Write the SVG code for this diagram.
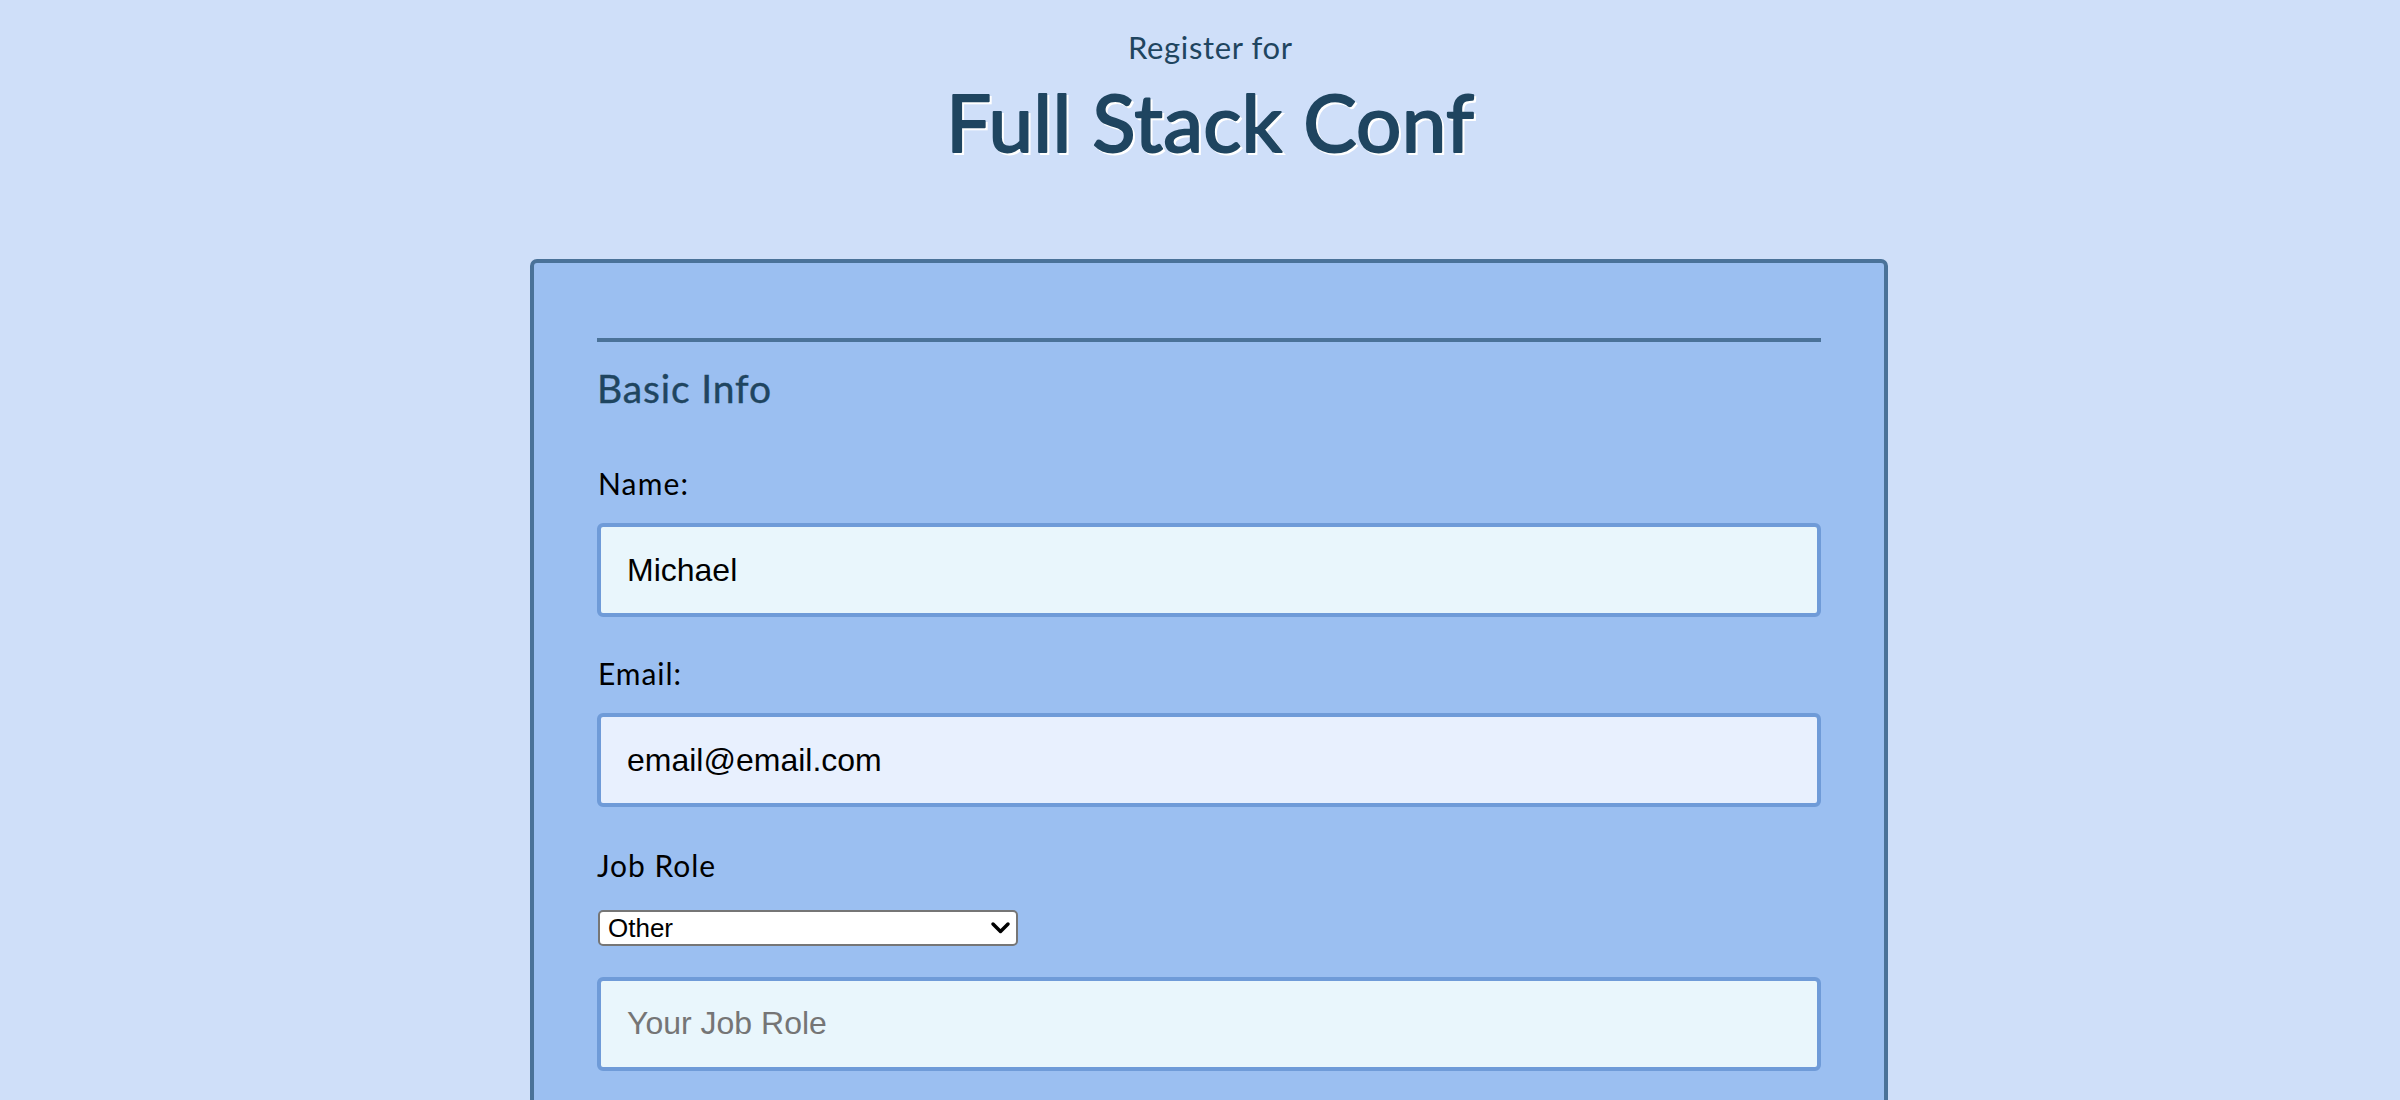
<svg xmlns="http://www.w3.org/2000/svg" width="2400" height="1100" viewBox="0 0 2400 1100">
  <defs>
    <style>
      .nun { font-family: Lato, "Noto Sans", "DejaVu Sans", sans-serif; }
      .title { fill: #1f4560; }
      .label { fill: #000000; font-size: 30px; }
      .field { font-family: "Liberation Sans", Arial, sans-serif; font-size: 32px; fill: #000000; }
      .input { stroke: #6f9bd8; stroke-width: 4; }
    </style>
  </defs>
  <rect x="0" y="0" width="2400" height="1100" fill="#cfdff9"/>

  <g id="header">
    <text class="nun title" x="1210" y="59" font-size="31" text-anchor="middle" textLength="164">Register for</text>
    <text class="nun" x="1212" y="154" font-size="80" text-anchor="middle" fill="#ffffff" stroke="#ffffff" stroke-width="2" textLength="528">Full Stack Conf</text>
    <text class="nun title" x="1210" y="152" font-size="80" text-anchor="middle" stroke="#1f4560" stroke-width="2" stroke-linejoin="round" textLength="528">Full Stack Conf</text>
  </g>

  <g id="form-panel">
    <rect x="532" y="261" width="1354" height="900" rx="5" fill="#9bbff1" stroke="#4a7299" stroke-width="4"/>
    <rect x="597" y="338" width="1224" height="4" fill="#4a7299"/>
  </g>

  <g id="basic-info-heading">
    <text class="nun title" x="597" y="403" font-size="39" stroke="#1f4560" stroke-width="0.4" textLength="174">Basic Info</text>
  </g>

  <g id="name-field">
    <text class="nun label" x="598" y="495" textLength="90">Name:</text>
    <rect class="input" x="599" y="525" width="1220" height="90" rx="4" fill="#e9f6fc"/>
    <text class="field" x="627" y="581">Michael</text>
  </g>

  <g id="email-field">
    <text class="nun label" x="598" y="685" textLength="83">Email:</text>
    <rect class="input" x="599" y="715" width="1220" height="90" rx="4" fill="#e8f0fe"/>
    <text class="field" x="627" y="771">email@email.com</text>
  </g>

  <g id="job-role-field">
    <text class="nun label" x="597" y="877" textLength="118">Job Role</text>
    <rect x="599" y="911" width="418" height="34" rx="4" fill="#ffffff" stroke="#767676" stroke-width="2"/>
    <text x="608" y="937" font-family="'Liberation Sans', Arial, sans-serif" font-size="26" fill="#000000">Other</text>
    <polyline points="993,924 1000.5,931.5 1008,924" fill="none" stroke="#000000" stroke-width="3.5" stroke-linecap="round" stroke-linejoin="round"/>
  </g>

  <g id="job-role-input">
    <rect class="input" x="599" y="979" width="1220" height="90" rx="4" fill="#e9f6fc"/>
    <text class="field" x="627" y="1034" style="fill:#757575">Your Job Role</text>
  </g>

  <g id="connectors"></g>
</svg>
